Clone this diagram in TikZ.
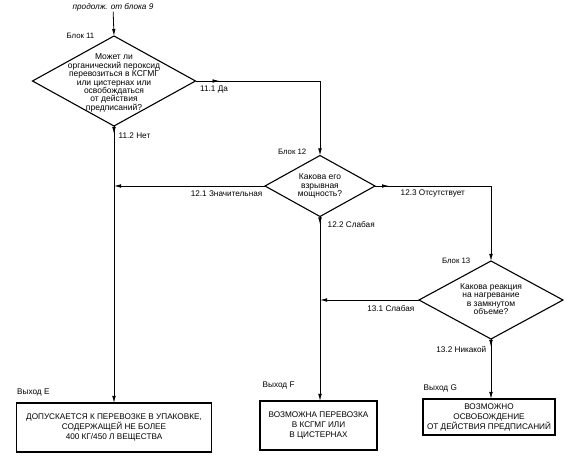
\documentclass[tikz,border=0pt]{standalone}
\usepackage{fontspec}
\setmainfont{Liberation Sans}
\usetikzlibrary{shapes.geometric, arrows.meta, positioning, decorations.markings}

\begin{document}
\begin{tikzpicture}[
    x=1pt, y=-1pt,
    >={Latex[length=7pt,width=3.6pt]},
    font=\fontsize{8.2}{9}\selectfont,
    % Styles
    question/.style={draw, diamond, line width=1.1pt, inner sep=0pt, outer sep=0pt},
    qtext/.style={align=center, font=\fontsize{8.5}{8.4}\selectfont},
    exitbox/.style={draw, rectangle, line width=1.4pt, align=center, inner sep=1.5pt, outer sep=0pt, font=\fontsize{8.2}{10}\selectfont},
    tag/.style={font=\fontsize{8.2}{9}\selectfont, inner sep=0.5pt},
    blocktag/.style={font=\fontsize{7.8}{9}\selectfont, inner sep=0.5pt},
    flow/.style={line width=0.8pt},
    firstarrow/.style={postaction={decorate}, decoration={markings, mark=at position #1 with {\arrow{Latex[length=7pt,width=3.6pt]}}}}
]
\useasboundingbox (0,0) rectangle (571,462);

% 1. Block 11
\node[tag, font=\itshape\fontsize{8.2}{9}\selectfont] (from9) at (113,7) {продолж. от блока 9};
\node[question, minimum width=163pt, minimum height=90pt] (q11) at (114,81) {};
\node[qtext] (t11) at (114,83) {Может ли\\органический пероксид\\перевозиться в КСГМГ\\или цистернах или\\освобождаться\\от действия\\предписаний?};
\node[blocktag, left=19pt of q11.north] (b11) {Блок 11};

\draw[flow, ->] (from9) -- (q11.north);

% 2. Block 12
\node[question, minimum width=110pt, minimum height=61pt] (q12) at (320,186) {};
\node[qtext] (t12) at (320,186) {Какова его\\взрывная\\мощность?};
\node[blocktag, above left=0pt and 13pt of q12.north] (b12) {Блок 12};

% 3. Block 13
\node[question, minimum width=144pt, minimum height=78pt] (q13) at (491,300) {};
\node[qtext] (t13) at (491,299) {Какова реакция\\на нагревание\\в замкнутом\\объеме?};
\node[blocktag, left=20pt of q13.north] (b13) {Блок 13};

% 4. Exits
\node[exitbox, minimum width=195pt, minimum height=49pt] (exitE) at (114,427.5) {ДОПУСКАЕТСЯ К ПЕРЕВОЗКЕ В УПАКОВКЕ,\\СОДЕРЖАЩЕЙ НЕ БОЛЕЕ\\400 КГ/450 Л ВЕЩЕСТВА};
\node[exitbox, minimum width=117pt, minimum height=49pt] (exitF) at (318.5,425.5) {ВОЗМОЖНА ПЕРЕВОЗКА\\В КСГМГ ИЛИ\\В ЦИСТЕРНАХ};
\node[exitbox, minimum width=132pt, minimum height=36pt, inner sep=1pt] (exitG) at (489,417) {ВОЗМОЖНО\\ОСВОБОЖДЕНИЕ\\ОТ ДЕЙСТВИЯ ПРЕДПИСАНИЙ};

\node[tag, above right=6pt and 0pt of exitE.north west] (outE) {Выход E};
\node[tag, above right=11pt and 2pt of exitF.north west] (outF) {Выход F};
\node[tag, above right=6pt and 0pt of exitG.north west] (outG) {Выход G};

% 5. Connectors
\draw[flow, firstarrow=24pt, ->] (q11.east) -- (q11.east -| q12.north) -- (q12.north);
\draw[flow, firstarrow=8pt, ->] (q11.south) -- (q11.south |- exitE.north);
\draw[flow, ->] (q12.west) -- (q12.west -| q11.south);
\draw[flow, firstarrow=8pt, ->] (q12.south) -- (q12.south |- exitF.north);
\draw[flow, firstarrow=14pt, ->] (q12.east) -- (q12.east -| q13.north) -- (q13.north);
\draw[flow, ->] (q13.west) -- (q13.west -| q12.south);
\draw[flow, firstarrow=8pt, ->] (q13.south) -- (q13.south |- exitG.north);

% 6. Branch labels
\node[tag, below right=4pt and 4pt of q11.east] (l111) {11.1 Да};
\node[tag, below right=6pt and 4pt of q11.south] (l112) {11.2 Нет};
\node[tag, below left=4pt and 2pt of q12.west] (l121) {12.1 Значительная};
\node[tag, below right=4pt and 7pt of q12.south] (l122) {12.2 Слабая};
\node[tag, below right=3pt and 25pt of q12.east] (l123) {12.3 Отсутствует};
\node[tag, below left=5pt and 4pt of q13.west] (l131) {13.1 Слабая};
\node[tag, below left=7pt and 4pt of q13.south] (l132) {13.2 Никакой};

\end{tikzpicture}
\end{document}
